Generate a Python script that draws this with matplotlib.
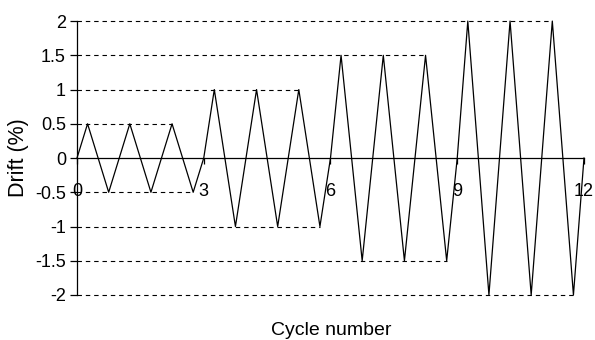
import matplotlib
matplotlib.use("Agg")
import matplotlib.pyplot as plt
import numpy as np

plt.rcParams["font.family"] = ["Liberation Sans", "DejaVu Sans"]

# loading protocol: cycle number vs drift (%)
cycle = [0, 0.25, 0.75, 1.25, 1.75, 2.25, 2.75,
         3, 3.25, 3.75, 4.25, 4.75, 5.25, 5.75,
         6, 6.25, 6.75, 7.25, 7.75, 8.25, 8.75,
         9, 9.25, 9.75, 10.25, 10.75, 11.25, 11.75, 12]
drift = [0, 0.5, -0.5, 0.5, -0.5, 0.5, -0.5,
         0, 1, -1, 1, -1, 1, -1,
         0, 1.5, -1.5, 1.5, -1.5, 1.5, -1.5,
         0, 2, -2, 2, -2, 2, -2, 0]
levels = [0.5, -0.5, 1, -1, 1.5, -1.5, 2, -2]
x_ticks = [0, 3, 6, 9, 12]
y_ticks = [-2, -1.5, -1, -0.5, 0, 0.5, 1, 1.5, 2]

cycle = np.asarray(cycle)
drift = np.asarray(drift)

fig = plt.figure(figsize=(5.95, 3.4), dpi=100)
ax = fig.add_axes([0.1294, 0.1324, 0.8521, 0.8056])

# dashed guide lines from the axis to the last peak of each amplitude
for lev in levels:
    x_end = cycle[drift == lev].max()
    ax.plot([0, x_end], [lev, lev], color="black", lw=0.8,
            linestyle=(0, (4, 3.5)), clip_on=False)

ax.plot(cycle, drift, color="black", lw=0.9, clip_on=False)

ax.set_xlim(0, 12)
ax.set_ylim(-2, 2)

ax.spines["top"].set_visible(False)
ax.spines["right"].set_visible(False)
ax.spines["bottom"].set_position(("data", 0))
ax.spines["bottom"].set_linewidth(0.9)
ax.spines["left"].set_linewidth(0.9)

ax.set_xticks(x_ticks)
ax.set_xticklabels([str(t) for t in x_ticks])
ax.set_yticks(y_ticks)
ax.set_yticklabels([f"{t:g}" for t in y_ticks])
ax.tick_params(axis="x", direction="out", length=4, width=0.9,
               pad=14, labelsize=13)
ax.tick_params(axis="y", direction="out", length=5, width=0.9,
               pad=3, labelsize=13)

ax.set_xlabel("Cycle number", fontsize=14)
ax.set_ylabel("Drift (%)", fontsize=15.5)
ax.xaxis.set_label_coords(0.501, -0.098)
ax.yaxis.set_label_coords(-0.095, 0.5)

fig.savefig("out.png", dpi=100)
plt.close(fig)
